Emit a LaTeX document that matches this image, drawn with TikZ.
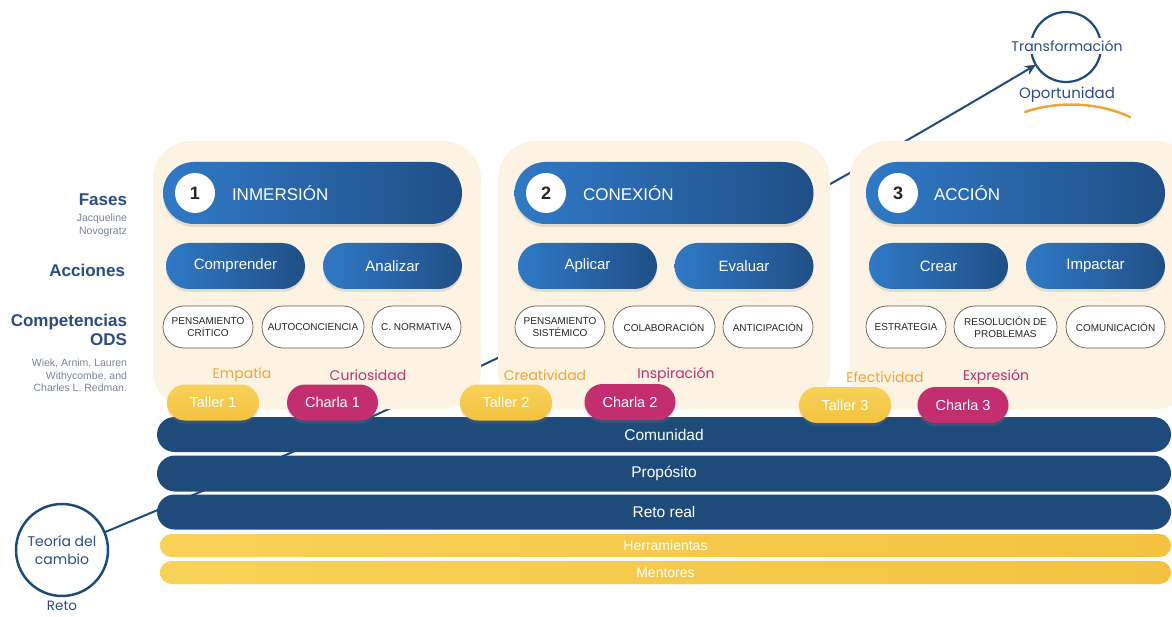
\documentclass[tikz,border=0pt]{standalone}
\usepackage{fontspec}
\setmainfont{Liberation Sans}
\newfontfamily\labelfont{Poppins}
\usetikzlibrary{shapes.misc,arrows.meta,shadows,backgrounds}

\definecolor{navy}{HTML}{1F4B7A}
\definecolor{blueL}{HTML}{3079C6}
\definecolor{blueD}{HTML}{1F4F86}
\definecolor{cream}{HTML}{FCF3E2}
\definecolor{sun}{HTML}{F4C23F}
\definecolor{sunL}{HTML}{F8D257}
\definecolor{berry}{HTML}{C22E6E}
\definecolor{amber}{HTML}{F0A437}
\definecolor{inkblue}{HTML}{2B4C84}
\definecolor{citegray}{HTML}{7A8593}

\newcommand{\pxfont}[2]{\fontsize{#1}{#2}\selectfont}

\begin{document}
\begin{tikzpicture}
    [x=1pt, y=-1pt,
    every node/.style={inner sep=0pt, outer sep=0pt},
    softshadow/.style={drop shadow={shadow xshift=0pt, shadow yshift=-3pt, opacity=.2}},
    panel/.style={rectangle, rounded corners=38pt, fill=cream, minimum height=268pt},
    phasebar/.style={rounded rectangle, minimum width=299pt, minimum height=62pt,
        left color=blueL, right color=blueD, softshadow},
    numdot/.style={circle, fill=white, minimum size=40pt, text=black!85, font=\bfseries\pxfont{18}{21}},
    phasetitle/.style={anchor=west, text=white, font=\pxfont{17}{20}},
    actpill/.style={rounded rectangle, minimum width=139pt, minimum height=46pt,
        left color=blueL, right color=blueD, text=white, font=\pxfont{15}{18}, softshadow},
    comppill/.style={rounded rectangle, draw=black!65, line width=.7pt, fill=white,
        minimum height=42pt, align=center, text=black!85, font=\pxfont{10}{12.5}},
    taller/.style={rounded rectangle, minimum width=92pt, minimum height=36pt,
        top color=sunL, bottom color=sun, text=white, font=\pxfont{14.5}{17}, softshadow},
    charla/.style={rounded rectangle, minimum width=91pt, minimum height=36pt,
        fill=berry, text=white, font=\pxfont{14.5}{17}, softshadow},
    virtue/.style={font=\labelfont\pxfont{14}{17}},
    band/.style={rounded rectangle, minimum width=1014pt, minimum height=35pt,
        fill=navy, text=white, font=\pxfont{15.5}{18}},
    toolband/.style={rounded rectangle, minimum width=1011pt, minimum height=23pt,
        left color=sunL, right color=sun, text=white, font=\pxfont{14}{16}},
    sidehead/.style={anchor=east, align=right, text=inkblue, font=\bfseries\pxfont{17}{19}},
    sidecite/.style={anchor=north east, align=right, text=citegray, font=\pxfont{10.5}{12.5}},
    ringlabel/.style={text=inkblue, font=\labelfont\pxfont{14}{17}}
    ]
    \useasboundingbox (0,0) rectangle (1172,617);
    \clip (0,0) rectangle (1172,617);

    \node[sidehead] (fases) at (127,200) {Fases};
    \node[sidecite] (jacq) at (127,214) {Jacqueline\\Novogratz};
    \node[sidehead] (acciones) at (125,270) {Acciones};
    \node[sidehead] (compet) at (127,330) {Competencias\\ODS};
    \node[sidecite] (wiek) at (127,359) {Wiek, Arnim, Lauren\\Withycombe, and\\Charles L. Redman.};

    \node[circle, draw=navy, line width=2.5pt, minimum size=92pt, align=center,
        ringlabel, font=\labelfont\pxfont{14}{18}] (teoria) at (62,550) {Teoría del\\cambio};
    \node[ringlabel, font=\labelfont\pxfont{13.5}{16}] (reto) at (62,606) {Reto};
    \node[circle, draw=navy, line width=2.2pt, minimum size=70pt] (transf) at (1066,47) {};
    \node[ringlabel, fill=white, inner sep=2pt] (transfTxt) at (1067,46) {Transformación};
    \node[ringlabel, font=\labelfont\pxfont{15}{18}] (oport) at (1067,95) {Oportunidad};
    \draw[amber, line width=2.5pt, line cap=round]
        (1025,112) .. controls (1060,100) and (1100,103) .. (1130,117);

    \begin{scope}[on background layer]
        \draw[navy, line width=2pt, -{Stealth[length=11pt,width=10pt]}]
            (teoria) to[bend right=4] (transf);
    \end{scope}

    \node[panel, minimum width=328pt] (panelA) at (317,275) {};
    \node[panel, minimum width=332pt] (panelB) at (664,275) {};
    \node[panel, minimum width=345pt] (panelC) at (1022,275) {};

    \node[phasebar] (faseA) at (312.5,193) {};
    \node[numdot] (numA) at (195,193) {1};
    \node[phasetitle] (titA) at (232,193) {INMERSIÓN};
    \node[phasebar] (faseB) at (664,193) {};
    \node[numdot] (numB) at (546,193) {2};
    \node[phasetitle] (titB) at (583,193) {CONEXIÓN};
    \node[phasebar] (faseC) at (1015.5,193) {};
    \node[numdot] (numC) at (898,193) {3};
    \node[phasetitle] (titC) at (934,193) {ACCIÓN};

    \node[actpill] (comprender) at (235.5,266) {Comprender};
    \node[actpill] (analizar) at (392.5,266) {Analizar};
    \node[actpill] (aplicar) at (587.5,266) {Aplicar};
    \node[actpill] (evaluar) at (744,266) {Evaluar};
    \node[actpill] (crear) at (938.5,266) {Crear};
    \node[actpill] (impactar) at (1095.5,266) {Impactar};

    \node[comppill, minimum width=90pt] (critico) at (208,327) {PENSAMIENTO\\CRÍTICO};
    \node[comppill, minimum width=102pt] (autocon) at (313,327) {AUTOCONCIENCIA};
    \node[comppill, minimum width=89pt] (normativa) at (416.5,327) {C. NORMATIVA};
    \node[comppill, minimum width=90pt] (sistemico) at (560,327) {PENSAMIENTO\\SISTÉMICO};
    \node[comppill, minimum width=102pt] (colab) at (664,327) {COLABORACIÓN};
    \node[comppill, minimum width=90pt] (anticip) at (768,327) {ANTICIPACIÓN};
    \node[comppill, minimum width=80pt] (estrategia) at (906,327) {ESTRATEGIA};
    \node[comppill, minimum width=103pt] (resolucion) at (1005.5,327) {RESOLUCIÓN DE\\PROBLEMAS};
    \node[comppill, minimum width=99pt] (comunica) at (1115.5,327) {COMUNICACIÓN};

    \node[virtue, text=amber] (empatia) at (242,375) {Empatía};
    \node[virtue, text=berry] (curiosidad) at (368,375) {Curiosidad};
    \node[virtue, text=amber] (creatividad) at (545,375) {Creatividad};
    \node[virtue, text=berry] (inspiracion) at (676,375) {Inspiración};
    \node[virtue, text=amber] (efectividad) at (885,377) {Efectividad};
    \node[virtue, text=berry] (expresion) at (996,377) {Expresión};

    \node[band] (comunidad) at (664,434.5) {Comunidad};
    \node[band, minimum height=36pt] (proposito) at (664,473.5) {Propósito};
    \node[band] (retoreal) at (664,512) {Reto real};
    \node[toolband] (herramientas) at (665.5,545.5) {Herramientas};
    \node[toolband] (mentores) at (665.5,572.5) {Mentores};

    \node[taller] (tallerA) at (213,402.5) {Taller 1};
    \node[charla] (charlaA) at (332.5,402.5) {Charla 1};
    \node[taller] (tallerB) at (506,402.5) {Taller 2};
    \node[charla] (charlaB) at (630,402) {Charla 2};
    \node[taller] (tallerC) at (845,405) {Taller 3};
    \node[charla] (charlaC) at (963,405) {Charla 3};
\end{tikzpicture}
\end{document}
